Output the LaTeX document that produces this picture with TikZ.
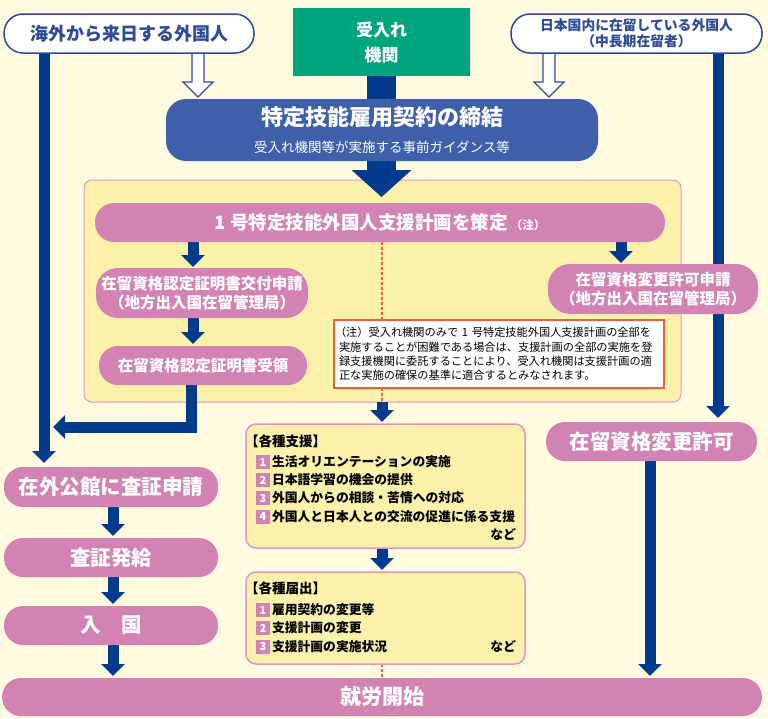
\documentclass[tikz,border=0pt]{standalone}
\usepackage{fontspec}
\setmainfont{Noto Sans CJK JP}
\usetikzlibrary{arrows.meta,calc}
\definecolor{bgc}{RGB}{255,250,224}
\definecolor{panelc}{RGB}{251,241,170}
\definecolor{pinkc}{RGB}{211,130,180}
\definecolor{pinkline}{RGB}{224,150,195}
\definecolor{navy}{RGB}{0,58,140}
\definecolor{cblue}{RGB}{62,95,170}
\definecolor{greenc}{RGB}{0,165,125}
\definecolor{pillblue}{RGB}{45,75,150}
\definecolor{redc}{RGB}{232,95,60}
\pgfdeclarelayer{back}
\pgfdeclarelayer{lines}
\pgfsetlayers{back,lines,main}
\begin{document}
\begin{tikzpicture}[x=1pt,y=-1pt,
 base/.style={inner sep=0pt, outer sep=0pt, align=center, font=\bfseries},
 pill/.style={base, fill=white, draw=pillblue, line width=1.5pt, text=pillblue, rounded corners=19pt},
 pinkbox/.style={base, fill=pinkc, text=white, rounded corners=#1},
 pinkbox/.default=19pt,
 flow/.style={draw=navy, line width=11pt, line join=miter, -{Triangle[width=23pt,length=12pt]}},
 hollow/.style={draw=pillblue, fill=white, line width=1.2pt, line join=miter},
 notedash/.style={draw=redc, line width=1.2pt, dash pattern=on 3pt off 2pt},
 infobox/.style={base, fill=panelc, draw=pinkline, line width=1.5pt, rounded corners=10pt},
 numsq/.style={base, fill=pinkc, text=white, minimum width=14pt, minimum height=14pt, font=\bfseries\fontsize{11}{11}\selectfont},
 listtxt/.style={base, anchor=west, text=black, font=\bfseries\fontsize{12.8}{14}\selectfont},
 bigtxt/.style={font=\bfseries\fontsize{20.5}{22}\selectfont},
 midtxt/.style={font=\bfseries\fontsize{15.5}{18.5}\selectfont}
]
\useasboundingbox (0,0) rectangle (768,718);
\begin{pgfonlayer}{back}
\fill[bgc] (0,0) rectangle (768,718);
\node[base, fill=panelc, draw=pinkline, line width=1pt, rounded corners=8pt, minimum width=597pt, minimum height=222pt] (panel) at (382.5,291) {};
\end{pgfonlayer}

% top row
\node[pill, minimum width=250pt, minimum height=39pt, font=\bfseries\fontsize{18}{18}\selectfont] (lp) at (129,33.5) {海外から来日する外国人};
\node[pill, minimum width=251pt, minimum height=39pt, font=\bfseries\fontsize{13.8}{16}\selectfont] (rp) at (636.5,33.5) {日本国内に在留している外国人\\（中長期在留者）};
\node[base, fill=greenc, text=white, minimum width=177pt, minimum height=68pt, font=\bfseries\fontsize{17}{25}\selectfont] (acc) at (381.5,42) {受入れ\\機関};
\node[base, fill=cblue, text=white, minimum width=432pt, minimum height=62pt, rounded corners=20pt] (contract) at (382,130) {{\fontsize{22}{26}\selectfont 特定技能雇用契約の締結}\\[13pt]{\mdseries\fontsize{13.5}{18}\selectfont 受入れ機関等が実施する事前ガイダンス等}};

% panel content
\node[pinkbox, minimum width=570pt, minimum height=39pt, font=\bfseries\fontsize{18.5}{20}\selectfont] (plan) at (380,222.5) {1 号特定技能外国人支援計画を策定\,{\fontsize{11.5}{11}\selectfont（注）}};
\node[pinkbox=22pt, minimum width=212pt, minimum height=50pt, midtxt] (coe1) at (202,293) {在留資格認定証明書交付申請\\（地方出入国在留管理局）};
\node[pinkbox, minimum width=208pt, minimum height=39pt, midtxt] (coe2) at (203,365.5) {在留資格認定証明書受領};
\node[pinkbox=22pt, minimum width=210pt, minimum height=50pt, midtxt] (chg1) at (653,289) {在留資格変更許可申請\\（地方出入国在留管理局）};
\node[base, fill=white, draw=redc, line width=1.3pt, minimum width=330pt, minimum height=68pt, text width=320pt, align=left, font=\mdseries\fontsize{11.2}{14.3}\selectfont] (note) at (499,354) {\hspace*{-4pt}（注）受入れ機関のみで\ 1\ 号特定技能外国人支援計画の全部を\\実施することが困難である場合は、支援計画の全部の実施を登\\録支援機関に委託することにより、受入れ機関は支援計画の適\\正な実施の確保の基準に適合するとみなされます。};

% left column
\node[pinkbox, minimum width=214pt, minimum height=40pt, bigtxt] (visa) at (111,487) {在外公館に査証申請};
\node[pinkbox, minimum width=214pt, minimum height=39pt, bigtxt] (issue) at (111,557.5) {査証発給};
\node[pinkbox, minimum width=214pt, minimum height=39pt, bigtxt] (entry) at (111,625.5) {入　国};
\node[pinkbox, minimum width=760pt, minimum height=38pt, font=\bfseries\fontsize{21}{22}\selectfont] (work) at (382,697) {就労開始};
\node[pinkbox, minimum width=211pt, minimum height=39pt, bigtxt] (chg2) at (651.5,441.5) {在留資格変更許可};

% support boxes
\node[infobox, minimum width=279pt, minimum height=124pt] (sup) at (385.5,486) {};
\node[listtxt, font=\bfseries\fontsize{13.5}{14}\selectfont] (s0) at (245,441) {【各種支援】};
\node[numsq] (s1n) at (263,462) {1}; \node[listtxt] (s1) at (272,462) {生活オリエンテーションの実施};
\node[numsq] (s2n) at (263,480) {2}; \node[listtxt] (s2) at (272,480) {日本語学習の機会の提供};
\node[numsq] (s3n) at (263,498) {3}; \node[listtxt] (s3) at (272,498) {外国人からの相談・苦情への対応};
\node[numsq] (s4n) at (263,516.5) {4}; \node[listtxt] (s4) at (272,516.5) {外国人と日本人との交流の促進に係る支援};
\node[listtxt, anchor=east] (s5) at (516,534) {など};

\node[infobox, minimum width=279pt, minimum height=92pt] (rep) at (385.5,618) {};
\node[listtxt, font=\bfseries\fontsize{13.5}{14}\selectfont] (r0) at (245,588.5) {【各種届出】};
\node[numsq] (r1n) at (263,610) {1}; \node[listtxt] (r1) at (272,610) {雇用契約の変更等};
\node[numsq] (r2n) at (263,628) {2}; \node[listtxt] (r2) at (272,628) {支援計画の変更};
\node[numsq] (r3n) at (263,646.5) {3}; \node[listtxt] (r3) at (272,646.5) {支援計画の実施状況};
\node[listtxt, anchor=east] (r4) at (516,646.5) {など};

% connectors
\begin{pgfonlayer}{lines}
\fill[navy] ($(acc.south)+(-14.5,0)$) rectangle ($(acc.south)+(14.5,96)$);
\fill[navy] ($(acc.south)+(-30,94)$) -- ($(acc.south)+(30,94)$) -- ($(acc.south)+(0,121)$) -- cycle;
\coordinate (lx) at (44,0);
\coordinate (rx) at (718,0);
\coordinate (cx) at (650,0);
\coordinate (ax) at (193,0);
\coordinate (bx) at (113,0);
\coordinate (dx) at (382,0);
\coordinate (ex) at (621,0);
\coordinate (corner) at (191,427);
\coordinate (ltip) at (53,427);
\coordinate (h1) at (198,0);
\coordinate (h2) at (549,0);
\draw[flow, shorten >=4pt] (lx |- lp.south) -- (lx |- visa.north);
\draw[flow, shorten >=4pt] (rx |- rp.south) -- (rx |- chg2.north);
\draw[flow, shorten >=2pt] (cx |- chg2.south) -- (cx |- work.north);
\draw[flow, shorten >=1pt] (ax |- plan.south) -- (ax |- coe1.north);
\draw[flow, shorten >=2pt] (ax |- coe1.south) -- (ax |- coe2.north);
\draw[flow] (coe2.south -| corner) -- (corner) -- (ltip);
\draw[flow, shorten >=2pt] (bx |- visa.south) -- (bx |- issue.north);
\draw[flow, shorten >=2pt] (bx |- issue.south) -- (bx |- entry.north);
\draw[flow, shorten >=2pt] (bx |- entry.south) -- (bx |- work.north);
\draw[notedash] (dx |- plan.south) -- (dx |- note.north);
\draw[notedash] (dx |- note.south) -- (dx |- panel.south);
\draw[flow, shorten >=2pt] (dx |- panel.south) -- (dx |- sup.north);
\draw[flow, shorten >=2pt] (dx |- sup.south) -- (dx |- rep.north);
\draw[notedash] (dx |- rep.south) -- (dx |- work.north);
\draw[flow, shorten >=1pt] (ex |- plan.south) -- (ex |- chg1.north);
\draw[hollow] (h1 |- lp.south) ++(-6,0) -- ++(0,29) -- ++(-9,0) -- ++(15,15) -- ++(15,-15) -- ++(-9,0) -- ++(0,-29);
\draw[hollow] (h2 |- rp.south) ++(-6,0) -- ++(0,29) -- ++(-9,0) -- ++(15,15) -- ++(15,-15) -- ++(-9,0) -- ++(0,-29);
\end{pgfonlayer}
\end{tikzpicture}
\end{document}
